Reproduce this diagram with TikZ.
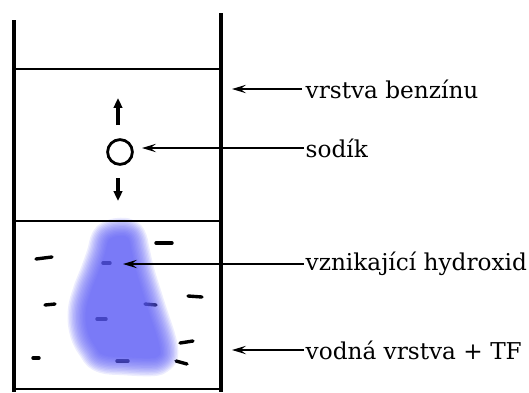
\documentclass[tikz,border=0pt]{standalone}
\usepackage{fontspec}
\newfontfamily\labelfont{DejaVu Serif}
\usetikzlibrary{positioning,calc,arrows.meta}

\definecolor{blobblue}{RGB}{90,90,245}

\begin{document}
\begin{tikzpicture}
	\useasboundingbox (0,0) rectangle (13.225,-9.8);
	\tikzstyle{wall}=[line width=2.8pt]
	\tikzstyle{level}=[line width=1.4pt]
	\tikzstyle{pointer}=[line width=0.9pt, -{Stealth[length=10pt, width=6pt, inset=4pt]}]
	\tikzstyle{move}=[line width=2.4pt, -{Triangle[length=7pt, width=6pt]}]
	\tikzstyle{label}=[anchor=west, inner sep=1pt, font=\labelfont\fontsize{16.5}{18}\selectfont]

	% vessel
	\draw [wall] (0.35,-0.5) -- (0.35,-9.8);
	\draw [wall] (5.525,-0.325) -- (5.525,-9.8);
	\draw [line width=2pt] (0.35,-9.725) -- (5.525,-9.725);
	\draw [level] (0.35,-1.725) -- (5.525,-1.725);

	% water molecules
	\foreach \a/\b in {{0.9,-6.475}/{1.3,-6.425}, {3.9,-6.075}/{4.3,-6.075},
		{4.7,-7.4}/{5.05,-7.425}, {1.125,-7.625}/{1.375,-7.6},
		{3.625,-7.6}/{3.9,-7.625}, {2.425,-7.975}/{2.65,-7.975},
		{2.575,-6.575}/{2.75,-6.575}, {4.5,-8.575}/{4.825,-8.525},
		{0.825,-8.95}/{0.975,-8.95}, {2.925,-9.025}/{3.2,-9.025},
		{4.4,-9.025}/{4.675,-9.1}}
		\draw [line width=2.4pt, line cap=round] (\a) -- (\b);

	% hydroxide cloud, soft edge from stacked dilated copies
	\foreach \w in {26,24,...,2,0.1} {
		\begin{scope}[transparency group, opacity=0.11]
			\filldraw [fill=blobblue, draw=blobblue, line width=\w pt, line join=round]
				plot [smooth cycle, tension=0.7] coordinates {
				(2.8,-5.95) (3.0,-5.9) (3.2,-5.95) (3.275,-6.225) (3.4,-6.775)
				(3.575,-7.35) (3.75,-7.9) (3.925,-8.425) (4.0,-8.775) (3.95,-8.9)
				(3.75,-8.95) (3.125,-8.925) (2.6,-8.875) (2.4,-8.675) (2.2,-8.3)
				(2.15,-7.8) (2.275,-7.3) (2.45,-6.85) (2.625,-6.35) (2.7,-6.05)};
		\end{scope}
	}
	\draw [level] (0.35,-5.525) -- (5.525,-5.525);

	% sodium piece
	\node (na) [circle, draw, line width=2pt, minimum size=0.62cm, inner sep=0pt] at (3.0,-3.8) {};
	\coordinate (up0) at (2.95,-3.125);
	\coordinate (up1) at (2.95,-2.45);
	\coordinate (dn0) at (2.95,-4.45);
	\coordinate (dn1) at (2.95,-5.025);
	\draw [move] (up0) -- (up1);
	\draw [move] (dn0) -- (dn1);

	% labels
	\node (benz) [label] at (7.6,-2.225) {vrstva benzínu};
	\node (sod) [label] at (7.6,-3.7) {sodík};
	\node (hydr) [label] at (7.6,-6.6) {vznikající hydroxid};
	\node (voda) [label] at (7.6,-8.75) {vodná vrstva + TF};

	\coordinate (benzt) at (5.8,-2.225);
	\coordinate (sodt) at (3.55,-3.7);
	\coordinate (hydrt) at (3.075,-6.6);
	\coordinate (vodat) at (5.8,-8.75);

	\draw [pointer] (benz.west) ++(-0.05,0) -- (benzt);
	\draw [pointer] (sod.west) -- (sodt);
	\draw [pointer] (hydr.west) -- (hydrt);
	\draw [pointer] (voda.west) -- (vodat);
\end{tikzpicture}
\end{document}
